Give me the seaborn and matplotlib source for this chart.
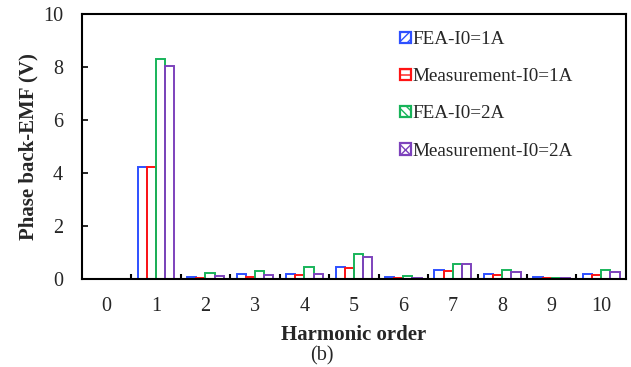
import matplotlib
matplotlib.use("Agg")
import matplotlib.pyplot as plt
from matplotlib.patches import Patch
from matplotlib.ticker import FixedLocator
import seaborn as sns
import pandas as pd

# Harmonic amplitudes of the phase back-EMF (V)
harmonics = [0, 1, 2, 3, 4, 5, 6, 7, 8, 9, 10]
fea_1a = [0.00, 4.21, 0.06, 0.18, 0.20, 0.47, 0.06, 0.33, 0.18, 0.06, 0.19]
meas_1a = [0.00, 4.23, 0.04, 0.09, 0.14, 0.42, 0.02, 0.30, 0.14, 0.03, 0.14]
fea_2a = [0.00, 8.29, 0.21, 0.29, 0.47, 0.93, 0.10, 0.57, 0.34, 0.05, 0.33]
meas_2a = [0.00, 8.03, 0.12, 0.16, 0.19, 0.83, 0.03, 0.57, 0.25, 0.03, 0.26]

series_names = ["FEA-I0=1A", "Measurement-I0=1A", "FEA-I0=2A", "Measurement-I0=2A"]
series_values = [fea_1a, meas_1a, fea_2a, meas_2a]
colors = ["#2E50FF", "#FF1414", "#18B45A", "#7D42BC"]
hatches = ["////", "---", "\\\\\\\\", "xxx"]

rows = []
for name, vals in zip(series_names, series_values):
    for h, v in zip(harmonics, vals):
        rows.append({"harmonic": str(h), "series": name, "emf": v})
df = pd.DataFrame(rows)

sns.set_style("white")
plt.rcParams["font.family"] = ["Liberation Serif", "DejaVu Serif"]

fig = plt.figure(figsize=(6.31, 3.67), dpi=100)
ax = fig.add_axes([0.1295, 0.2398, 0.8625, 0.7221])

sns.barplot(data=df, x="harmonic", y="emf", hue="series",
            hue_order=series_names, palette=colors, width=0.74,
            fill=False, linewidth=1.4, legend=False, ax=ax,
            errorbar=None)

ax.set_xlim(-0.5, 10.5)
ax.set_ylim(0, 10)
ax.set_yticks([0, 2, 4, 6, 8, 10])

for s in ax.spines.values():
    s.set_visible(True)
    s.set_color("black")
    s.set_linewidth(1.5)

# category boundary ticks along the bottom
ax.xaxis.set_minor_locator(FixedLocator([i + 0.5 for i in range(10)]))
ax.tick_params(axis="x", which="major", length=0, pad=13, labelsize=14.5)
ax.tick_params(axis="x", which="minor", direction="in", length=3.8,
               width=1.5, color="black", bottom=True)
ax.tick_params(axis="y", which="major", direction="in", length=4.3,
               width=1.2, color="black", left=True, pad=13.5, labelsize=14.5)

ax.set_xlabel("Harmonic order", fontsize=15, fontweight="bold")
ax.set_ylabel("Phase back-EMF (V)", fontsize=15, fontweight="bold")
ax.xaxis.set_label_coords(0.5, -0.173)
ax.yaxis.set_label_coords(-0.079, 0.5)

handles = [Patch(facecolor="white", edgecolor=c, hatch=h, linewidth=1.6)
           for c, h in zip(colors, hatches)]
leg = ax.legend(handles, series_names, loc="upper left",
                bbox_to_anchor=(0.634, 0.915), bbox_transform=fig.transFigure,
                frameon=False, fontsize=13.8, handlelength=0.55,
                handleheight=0.55, handletextpad=0.1, labelspacing=1.05,
                borderpad=0, borderaxespad=0)

fig.text(322 / 631, 1 - 356 / 367, "(b)", ha="center", va="center",
         fontsize=14.5)

fig.savefig("out.png", dpi=100)
